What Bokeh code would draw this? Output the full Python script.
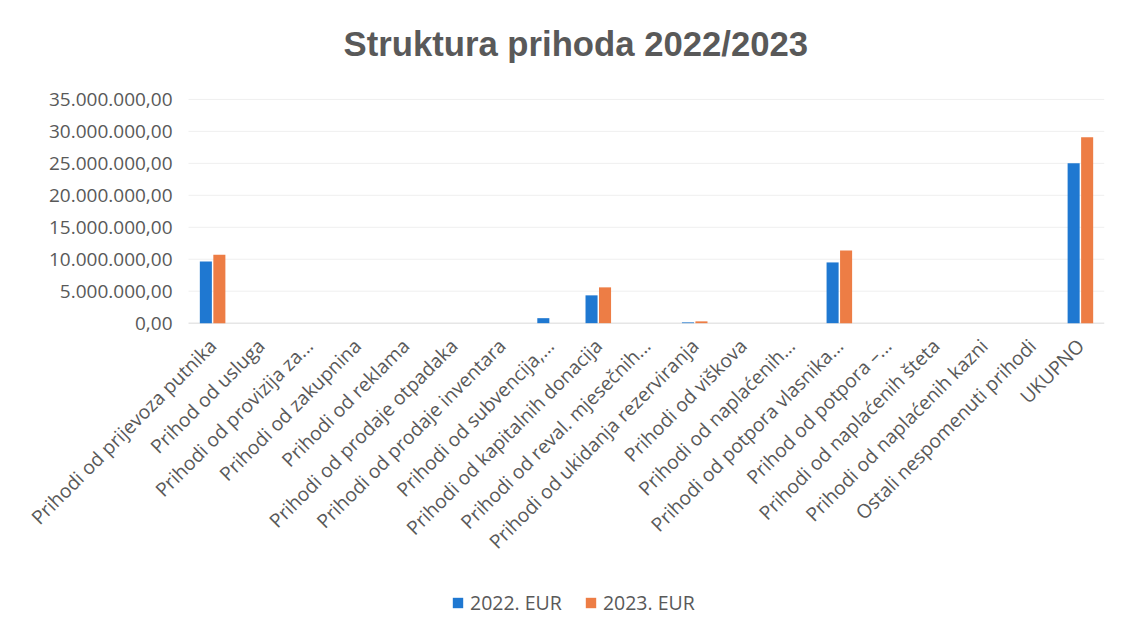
import math
from bokeh.plotting import figure
from bokeh.models import ColumnDataSource, Range1d, Legend, LegendItem
from bokeh.core.properties import value
from bokeh.transform import dodge
from bokeh.embed import file_html
from bokeh.resources import INLINE

categories = [
    "Prihodi od prijevoza putnika",
    "Prihod od usluga",
    "Prihodi od provizija za...",
    "Prihodi od zakupnina",
    "Prihodi od reklama",
    "Prihodi od prodaje otpadaka",
    "Prihodi od prodaje inventara",
    "Prihodi od subvencija,...",
    "Prihodi od kapitalnih donacija",
    "Prihodi od reval. mjesečnih...",
    "Prihodi od ukidanja rezerviranja",
    "Prihodi od viškova",
    "Prihodi od naplaćenih...",
    "Prihodi od potpora vlasnika...",
    "Prihod od potpora –...",
    "Prihodi od naplaćenih šteta",
    "Prihodi od naplaćenih kazni",
    "Ostali nespomenuti prihodi",
    "UKUPNO",
]
eur_2022 = [9650000, 0, 0, 0, 0, 0, 0, 780000, 4350000, 0,
            120000, 0, 0, 9500000, 0, 0, 0, 0, 25000000]
eur_2023 = [10700000, 0, 0, 0, 0, 0, 0, 0, 5600000, 0,
            280000, 0, 0, 11350000, 0, 0, 0, 0, 29100000]
y_ticks = [0, 5000000, 10000000, 15000000, 20000000, 25000000, 30000000, 35000000]
y_max = 35000000


def fmt_eur(v):
    s = f"{v:,.2f}"                      # 35,000,000.00
    return s.replace(",", "X").replace(".", ",").replace("X", ".")


y_tick_labels = [fmt_eur(t) for t in y_ticks]

# ---- layout constants (pixels) ----
W, H = 1106, 616
HEADROOM = 14             # pixels above the top gridline kept inside the frame
TOP = 96 - HEADROOM       # space above the frame (title)
BAND_LEFT = 188           # distance from canvas left to first category band
RIGHT = 2
PLOT_PX = 225             # pixel height of the 0..y_max value band
frame_h = H - TOP
n = len(categories)
cat_px = (W - RIGHT - BAND_LEFT) / n
x_start = -0.5 - BAND_LEFT / cat_px
px_val = y_max / PLOT_PX
y_top = y_max + HEADROOM * px_val
y_min = -(frame_h - PLOT_PX - HEADROOM) * px_val

idx = list(range(n))
source = ColumnDataSource(data=dict(x=idx, cat=categories, y22=eur_2022, y23=eur_2023,
                                    zero=[0] * n))
ticks_src = ColumnDataSource(data=dict(y=y_ticks, label=y_tick_labels,
                                       x0=[-0.5] * len(y_ticks)))
grid_src = ColumnDataSource(data=dict(y=y_ticks[1:], x0=[-0.5] * (len(y_ticks) - 1),
                                      x1=[n - 0.5] * (len(y_ticks) - 1)))

p = figure(x_range=Range1d(x_start, n - 0.5), y_range=Range1d(y_min, y_top),
           width=W, height=H, x_axis_location=None, y_axis_location=None,
           output_backend="svg", toolbar_location=None,
           title="Struktura prihoda 2022/2023",
           min_border_left=0, min_border_right=RIGHT, min_border_top=TOP, min_border_bottom=0)

p.title.align = "left"
p.title.text_font = "Liberation Sans"
p.title.text_font_size = "34.7px"
p.title.text_font_style = "bold"
p.title.text_color = "#595959"
p.title.standoff = 45 - HEADROOM + 14
p.title.offset = 343

p.outline_line_color = None
p.background_fill_color = "white"
p.border_fill_color = "white"
p.xgrid.grid_line_color = None
p.ygrid.grid_line_color = None

# horizontal gridlines and category axis line
p.segment(x0="x0", x1="x1", y0="y", y1="y", source=grid_src, line_color="#EFEFEF", line_width=1)
p.segment(x0=-0.5, x1=n - 0.5, y0=0, y1=0, line_color="#D9D9D9", line_width=1)

blue = "#1F78D1"
orange = "#ED7D45"
r22 = p.vbar(x=dodge("x", -0.14), top="y22", width=0.25, source=source,
             fill_color=blue, line_color=None)
r23 = p.vbar(x=dodge("x", 0.14), top="y23", width=0.25, source=source,
             fill_color=orange, line_color=None)

# value axis labels
p.text(x="x0", y="y", text="label", source=ticks_src, x_offset=-16,
       text_align="right", text_baseline="middle",
       text_font=value("Open Sans"), text_font_size="19px", text_color="#595959")

# rotated category labels
p.text(x="x", y="zero", text="cat", source=source, angle=math.pi / 4,
       text_align="right", text_baseline="middle", y_offset=19,
       text_font=value("Open Sans"), text_font_size="19.3px", text_color="#595959")

legend = Legend(items=[LegendItem(label="2022. EUR", renderers=[r22]),
                       LegendItem(label="2023. EUR", renderers=[r23])],
                orientation="horizontal", location=(451, 0))
legend.label_text_font = "Open Sans"
legend.label_text_font_size = "19.5px"
legend.label_text_color = "#595959"
legend.glyph_width = 13
legend.glyph_height = 13
legend.spacing = 22
legend.label_standoff = 6
legend.border_line_color = None
legend.background_fill_alpha = 0
legend.padding = 4
legend.margin = 0
p.add_layout(legend, "center")

open("out.html", "w").write(file_html(p, INLINE))
